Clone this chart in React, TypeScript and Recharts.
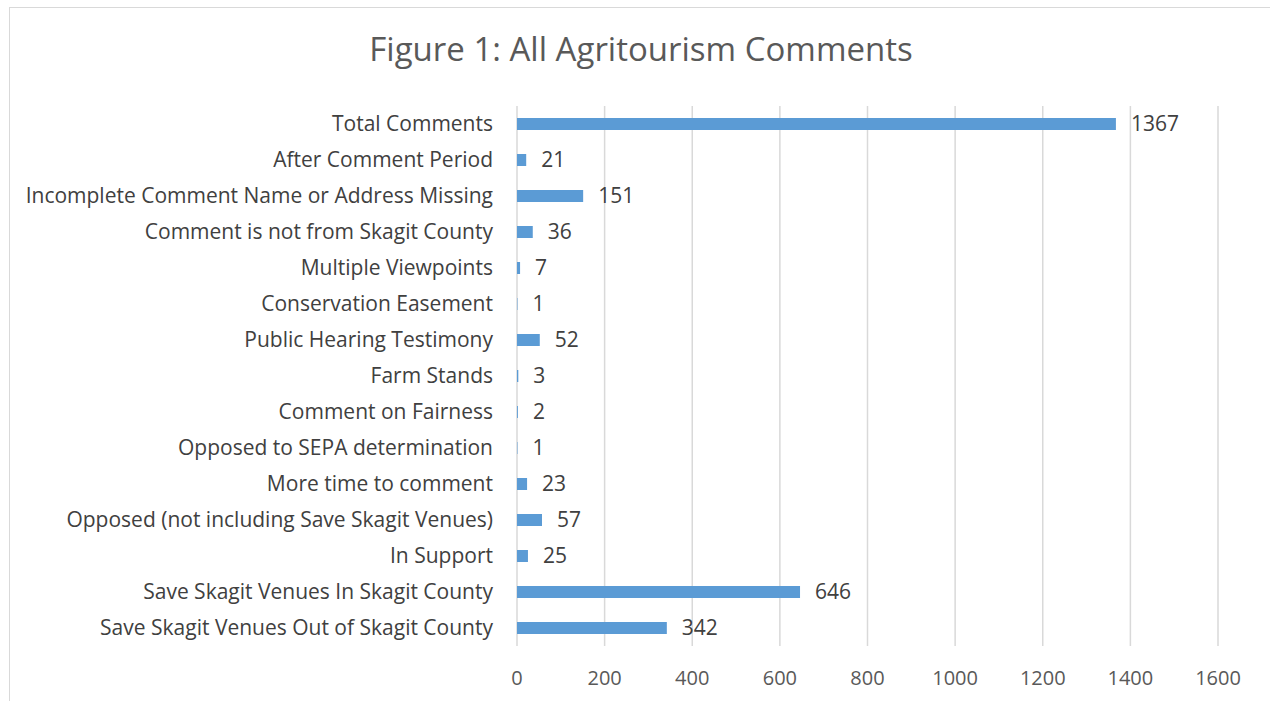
import React from 'react';
import { BarChart, Bar, XAxis, YAxis, CartesianGrid, LabelList } from 'recharts';

const categories = [
  'Total Comments',
  'After Comment Period',
  'Incomplete Comment Name or Address Missing',
  'Comment is not from Skagit County',
  'Multiple Viewpoints',
  'Conservation Easement',
  'Public Hearing Testimony',
  'Farm Stands',
  'Comment on Fairness',
  'Opposed to SEPA determination',
  'More time to comment',
  'Opposed (not including Save Skagit Venues)',
  'In Support',
  'Save Skagit Venues In Skagit County',
  'Save Skagit Venues Out of Skagit County',
];

const counts = [1367, 21, 151, 36, 7, 1, 52, 3, 2, 1, 23, 57, 25, 646, 342];

const xTicks = [0, 200, 400, 600, 800, 1000, 1200, 1400, 1600];

const FONT = '"Open Sans", sans-serif';

const App: React.FC = () => {
  const data = categories.map((name, i) => ({ name, value: counts[i] }));

  return (
    <div style={{ position: 'absolute', left: 0, top: 0, width: 1270, height: 701, background: '#fff', overflow: 'hidden', fontFamily: FONT }}>
      <div style={{ position: 'absolute', left: 9, top: 7, width: 1275, height: 710, border: '1px solid #d9d9d9', boxSizing: 'border-box' }} />
      <div style={{ position: 'absolute', left: 0, top: 26, width: 1282, textAlign: 'center', fontSize: 33, color: '#595959' }}>
        Figure 1: All Agritourism Comments
      </div>
      <div style={{ position: 'absolute', left: 0, top: 0 }}>
        <BarChart
          width={1270}
          height={701}
          data={data}
          layout="vertical"
          margin={{ top: 106, right: 52, bottom: 0, left: 0 }}
          barCategoryGap={0}
        >
          <CartesianGrid horizontal={false} vertical={true} stroke="#d9d9d9" strokeWidth={1.5} />
          <XAxis
            type="number"
            domain={[0, 1600]}
            ticks={xTicks}
            axisLine={false}
            tickLine={false}
            height={55}
            tickMargin={19}
            tick={{ fill: '#595959', fontSize: 20, fontFamily: FONT }}
            interval={0}
          />
          <YAxis
            type="category"
            dataKey="name"
            width={517}
            axisLine={false}
            tickLine={false}
            tickMargin={18}
            interval={0}
            tick={{ fill: '#404040', fontSize: 21, fontFamily: FONT }}
          />
          <Bar dataKey="value" fill="#5b9bd5" barSize={12} isAnimationActive={false}>
            <LabelList dataKey="value" position="right" offset={15} fill="#404040" fontSize={21} fontFamily={FONT} />
          </Bar>
        </BarChart>
      </div>
    </div>
  );
};

export default App;
